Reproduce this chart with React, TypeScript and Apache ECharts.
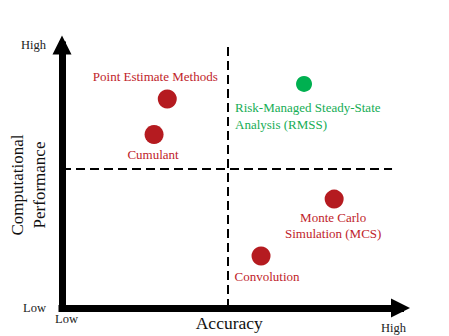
import React, { useEffect, useRef } from "react";
import * as echarts from "echarts";

// ---- data ----
const methodNames = [
  "Point Estimate Methods",
  "Cumulant",
  "Risk-Managed Steady-State\nAnalysis (RMSS)",
  "Monte Carlo\nSimulation (MCS)",
  "Convolution",
];
const accuracy = [3.11, 2.72, 7.15, 8.04, 5.88];
const performance = [7.95, 6.6, 8.52, 4.14, 1.98];
const isProposed = [false, false, true, false, false];

const xTickLabels = ["Low", "High"];
const yTickLabels = ["Low", "High"];
const xAxisTitle = "Accuracy";
const yAxisTitle = "Computational\nPerformance";

const accuracyDivider = 4.9;
const performanceDivider = 5.29;

// ---- styling / layout (kept apart from data) ----
const SERIF = '"Liberation Serif", "Times New Roman", serif';
const RED = "#B51B20";
const RED_TEXT = "#C0232A";
const GREEN = "#00B050";
const GREEN_TEXT = "#16AD55";

const labelLayouts: any[] = [
  { position: "top", distance: 5, offset: [-12, 0] },
  { position: "bottom", distance: 3, offset: [-1, 0] },
  { position: "bottom", distance: 5, offset: [-69, 2], align: "left", lineHeight: 17 },
  { position: "bottom", distance: 1, offset: [-1, 0], lineHeight: 16 },
  { position: "bottom", distance: 4, offset: [6, 0] },
];

export default function App() {
  const ref = useRef<HTMLDivElement>(null);

  useEffect(() => {
    if (!ref.current) return;
    const chart = echarts.init(ref.current, null, { renderer: "svg" });

    const data = methodNames.map((name, i) => ({
      name,
      value: [accuracy[i], performance[i]],
      symbolSize: isProposed[i] ? 16 : 19,
      itemStyle: { color: isProposed[i] ? GREEN : RED, opacity: 1 },
      label: {
        show: true,
        formatter: "{b}",
        color: isProposed[i] ? GREEN_TEXT : RED_TEXT,
        fontFamily: SERIF,
        fontSize: 13,
        lineHeight: 15,
        ...labelLayouts[i],
      },
    }));

    const axisLine = {
      show: true,
      symbol: ["none", "triangle"],
      symbolSize: [19, 19],
      lineStyle: { color: "#000", width: 7, cap: "square" },
    };

    chart.setOption({
      animation: false,
      backgroundColor: "#fff",
      grid: {
        left: 62,
        right: 48.5,
        top: 45,
        bottom: 28,
        containLabel: false,
        outerBoundsMode: "none",
      },
      xAxis: {
        type: "value",
        min: 0,
        max: 10,
        interval: 10,
        axisLine,
        axisTick: { show: false },
        splitLine: { show: false },
        name: xAxisTitle,
        nameLocation: "middle",
        nameGap: 6,
        nameMoveOverlap: false,
        nameTextStyle: {
          fontFamily: SERIF,
          fontSize: 17.5,
          color: "#111",
          padding: [0, 4, 0, 0],
        },
        axisLabel: {
          show: true,
          margin: 4,
          showMinLabel: true,
          showMaxLabel: true,
          formatter: (v: number) =>
            v === 0 ? `{lo|${xTickLabels[0]}}` : v === 10 ? `{hi|${xTickLabels[1]}}` : "",
          rich: {
            lo: { fontFamily: SERIF, fontSize: 12.5, color: "#222", padding: [0, 0, 0, 9] },
            hi: { fontFamily: SERIF, fontSize: 12.5, color: "#222", padding: [9, 14, 0, 0] },
          },
        },
      },
      yAxis: {
        type: "value",
        min: 0,
        max: 10,
        interval: 10,
        axisLine,
        axisTick: { show: false },
        splitLine: { show: false },
        axisLabel: {
          show: true,
          margin: 16,
          showMinLabel: true,
          showMaxLabel: true,
          fontFamily: SERIF,
          fontSize: 12.5,
          color: "#222",
          formatter: (v: number) =>
            v === 0 ? yTickLabels[0] : v === 10 ? yTickLabels[1] : "",
        },
      },
      graphic: [
        {
          type: "text",
          x: 28,
          y: 185,
          rotation: Math.PI / 2,
          style: {
            text: yAxisTitle,
            font: `17px ${SERIF}`,
            fill: "#111",
            align: "center",
            verticalAlign: "middle",
            textAlign: "center",
            textVerticalAlign: "middle",
            lineHeight: 22,
          },
        },
      ],
      series: [
        {
          type: "scatter",
          clip: false,
          data,
          markLine: {
            silent: true,
            symbol: "none",
            label: { show: false },
            lineStyle: { color: "#000", width: 2, type: [9, 5] },
            data: [
              [{ coord: [accuracyDivider, 0] }, { coord: [accuracyDivider, 10] }],
              [{ coord: [0, performanceDivider] }, { coord: [9.75, performanceDivider] }],
            ],
          },
        },
      ],
    });

    return () => chart.dispose();
  }, []);

  return (
    <div
      ref={ref}
      style={{ position: "fixed", left: 0, top: 0, width: 449, height: 336 }}
    />
  );
}
